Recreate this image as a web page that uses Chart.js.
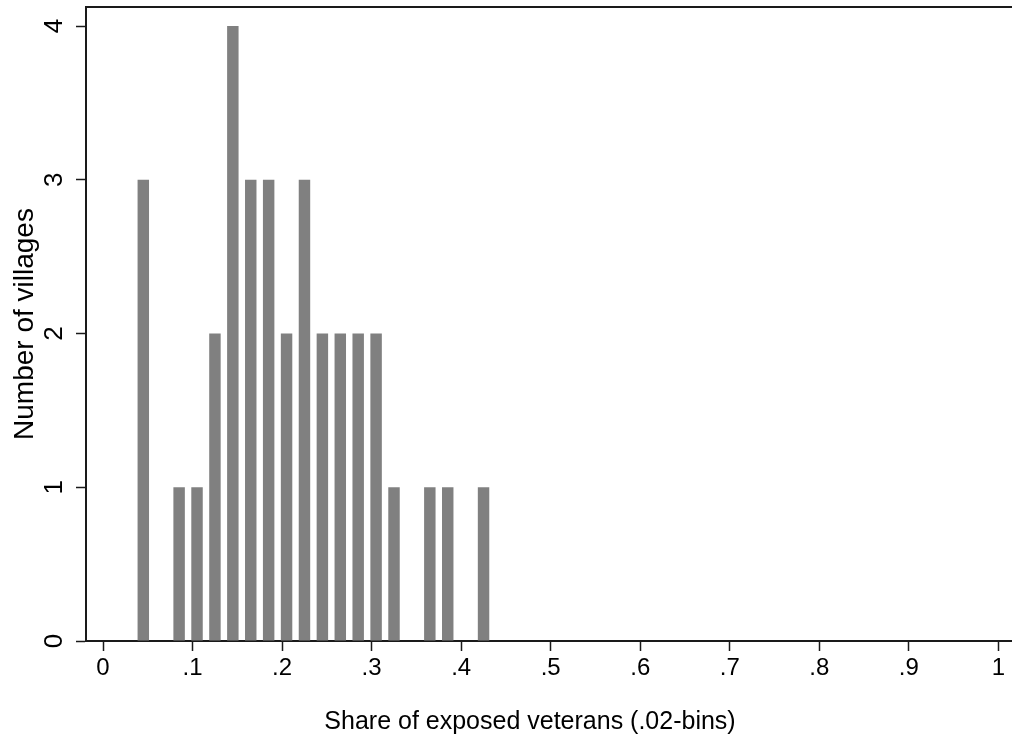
<!DOCTYPE html>
<html>
<head>
<meta charset="utf-8">
<title>Share of exposed veterans</title>
<script src="https://cdn.jsdelivr.net/npm/chart.js@4/dist/chart.umd.min.js"></script>
<style>
    html, body { margin: 0; padding: 0; background: #ffffff; }
    #histChart { display: block; }
</style>
</head>
<body>
<canvas id="histChart" width="1012" height="743"></canvas>
<script>
// .02-wide bins, keyed by bin midpoint
const binCenters = [0.045, 0.065, 0.085, 0.105, 0.125, 0.145, 0.165, 0.185, 0.205, 0.225,
                    0.245, 0.265, 0.285, 0.305, 0.325, 0.345, 0.365, 0.385, 0.405, 0.425];
const villageCounts = [3, 0, 1, 1, 2, 4, 3, 3, 2, 3,
                       2, 2, 2, 2, 1, 0, 1, 1, 0, 1];

const xTickValues = [0, 0.1, 0.2, 0.3, 0.4, 0.5, 0.6, 0.7, 0.8, 0.9, 1];
const xTickLabels = ["0", ".1", ".2", ".3", ".4", ".5", ".6", ".7", ".8", ".9", "1"];
const yTickValues = [0, 1, 2, 3, 4];
const yTickLabels = ["0", "1", "2", "3", "4"];

const xTitle = "Share of exposed veterans (.02-bins)";
const yTitle = "Number of villages";

const axisColor = "#1a1a1a";
const fontFamily = "'Liberation Sans', Arial, Helvetica, sans-serif";

window.renderHistogram = function () {

    const ctx = document.getElementById("histChart").getContext("2d");

    new Chart(ctx, {
        type: 'bar',

        data: {
            datasets: [{
                label: yTitle,
                data: binCenters.map((c, i) => ({ x: c, y: villageCounts[i] })),
                backgroundColor: "#808080",
                borderWidth: 0,
                barPercentage: 0.64,
                categoryPercentage: 1
            }]
        },

        options: {
            responsive: false,
            devicePixelRatio: 1,
            animation: false,

            layout: {
                padding: { top: 7, left: 0, right: 0, bottom: 0 }
            },

            plugins: {
                legend: { display: false },
                tooltip: { enabled: false }
            },

            scales: {

                x: {
                    type: 'linear',
                    min: -0.019,
                    max: 1.0152,
                    offset: false,
                    afterBuildTicks: (axis) => {
                        axis.ticks = xTickValues.map(v => ({ value: v }));
                    },
                    afterFit: (axis) => {
                        axis.height = 102;
                        axis.paddingLeft = 0;
                        axis.paddingRight = 0;
                    },
                    ticks: {
                        autoSkip: false,
                        maxRotation: 0,
                        padding: 3,
                        color: "#000000",
                        font: { family: fontFamily, size: 24 },
                        callback: (value, index) => xTickLabels[index]
                    },
                    grid: {
                        offset: false,
                        drawOnChartArea: false,
                        drawTicks: true,
                        tickLength: 10,
                        tickWidth: 1.5,
                        tickColor: axisColor
                    },
                    border: {
                        display: true,
                        color: axisColor,
                        width: 2
                    }
                },

                y: {
                    type: 'linear',
                    min: 0,
                    max: 4.1236,
                    afterBuildTicks: (axis) => {
                        axis.ticks = yTickValues.map(v => ({ value: v }));
                    },
                    afterFit: (axis) => {
                        // rotated labels would otherwise push the plot region down
                        axis.width = 86;
                        axis.paddingTop = 0;
                        axis.paddingBottom = 0;
                    },
                    ticks: {
                        autoSkip: false,
                        minRotation: 90,
                        maxRotation: 90,
                        crossAlign: 'center',
                        padding: 14,
                        color: "#000000",
                        font: { family: fontFamily, size: 26 },
                        callback: (value, index) => yTickLabels[index]
                    },
                    grid: {
                        drawOnChartArea: false,
                        drawTicks: true,
                        tickLength: 10,
                        tickWidth: 1.5,
                        tickColor: axisColor
                    },
                    border: {
                        display: true,
                        color: axisColor,
                        width: 2
                    },
                    title: {
                        display: true,
                        text: yTitle,
                        color: "#000000",
                        font: { family: fontFamily, size: 28 },
                        padding: { top: 8, bottom: 0 }
                    }
                }
            }
        },

        plugins: [{
            id: "plotFrame",

            // top edge of the plot region and the x title
            afterDraw: (chart) => {
                const c = chart.ctx;
                const area = chart.chartArea;
                c.save();
                c.strokeStyle = axisColor;
                c.lineWidth = 2;
                c.beginPath();
                c.moveTo(area.left - 1, area.top);
                c.lineTo(area.right, area.top);
                c.stroke();

                c.fillStyle = "#000000";
                c.font = "25px " + fontFamily;
                c.textAlign = "center";
                c.textBaseline = "middle";
                c.fillText(xTitle, 530, 722);
                c.restore();
            }
        }]
    });
};

window.renderHistogram();
</script>
</body>
</html>
